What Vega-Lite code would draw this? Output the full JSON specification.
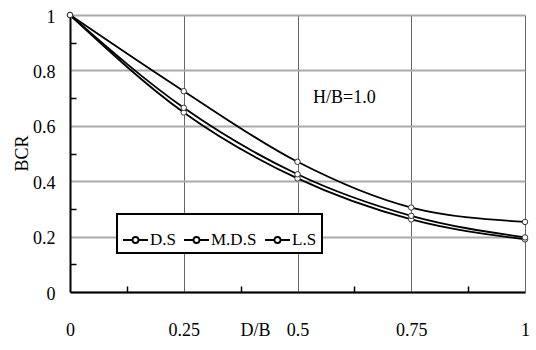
{
  "$schema": "https://vega.github.io/schema/vega-lite/v6.json",
  "width": 455,
  "height": 277,
  "autosize": "none",
  "padding": {"left": 70, "top": 15, "right": 11, "bottom": 58},
  "background": "white",
  "config": {
    "view": {"stroke": null},
    "font": "Times New Roman, Liberation Serif, serif"
  },
  "data": {
    "values": [
      {"x": 0, "y": 1, "s": "D.S"},
      {"x": 0.25, "y": 0.648, "s": "D.S"},
      {"x": 0.5, "y": 0.41, "s": "D.S"},
      {"x": 0.75, "y": 0.262, "s": "D.S"},
      {"x": 1, "y": 0.19, "s": "D.S"},
      {"x": 0, "y": 1, "s": "M.D.S"},
      {"x": 0.25, "y": 0.665, "s": "M.D.S"},
      {"x": 0.5, "y": 0.425, "s": "M.D.S"},
      {"x": 0.75, "y": 0.275, "s": "M.D.S"},
      {"x": 1, "y": 0.197, "s": "M.D.S"},
      {"x": 0, "y": 1, "s": "L.S"},
      {"x": 0.25, "y": 0.725, "s": "L.S"},
      {"x": 0.5, "y": 0.47, "s": "L.S"},
      {"x": 0.75, "y": 0.305, "s": "L.S"},
      {"x": 1, "y": 0.253, "s": "L.S"}
    ]
  },
  "resolve": {"axis": {"x": "independent", "y": "independent"}},
  "layer": [
    {
      "mark": {"type": "line", "interpolate": "monotone", "strokeWidth": 1.8,
               "point": {"filled": false, "fill": "white", "size": 30, "strokeWidth": 1, "stroke": "#333"}},
      "encoding": {
        "x": {"field": "x", "type": "quantitative",
              "scale": {"domain": [0, 1], "nice": false, "zero": false},
              "axis": {"orient": "bottom", "values": [0, 0.25, 0.5, 0.75, 1], "format": ".2~f",
                       "grid": true, "gridColor": "#666", "gridWidth": 1,
                       "ticks": false, "tickSize": 0,
                       "domain": true, "domainColor": "black", "domainWidth": 2,
                       "labelFont": "Times New Roman, Liberation Serif, serif", "labelFontSize": 18, "labelColor": "black",
                       "labelBaseline": "middle", "labelPadding": 38, "labelFlush": false,
                       "title": "D/B", "titleFont": "Times New Roman, Liberation Serif, serif", "titleFontSize": 18,
                       "titleFontWeight": "normal", "titleColor": "black",
                       "titleX": 185, "titleY": 38, "titleBaseline": "middle", "titleAlign": "center"}},
        "y": {"field": "y", "type": "quantitative",
              "scale": {"domain": [0, 1], "nice": false, "zero": false},
              "axis": {"orient": "left", "values": [0, 0.2, 0.4, 0.6, 0.8, 1], "format": ".1~f",
                       "grid": true, "gridColor": "#aaa", "gridWidth": 2,
                       "ticks": false, "tickSize": 0,
                       "domain": true, "domainColor": "black", "domainWidth": 2,
                       "labelFont": "Times New Roman, Liberation Serif, serif", "labelFontSize": 18, "labelColor": "black",
                       "labelBaseline": "middle", "labelPadding": 15, "labelOffset": 2, "labelFlush": false,
                       "title": "BCR", "titleFont": "Times New Roman, Liberation Serif, serif", "titleFontSize": 18,
                       "titleFontWeight": "normal", "titleColor": "black",
                       "titleX": -48, "titleY": 138, "titleBaseline": "middle", "titleAlign": "center", "titleAngle": -90}},
        "color": {"field": "s", "type": "nominal",
                  "scale": {"domain": ["D.S", "M.D.S", "L.S"], "range": ["black", "black", "black"]},
                  "legend": {"orient": "none", "legendX": 47, "legendY": 199, "direction": "horizontal",
                             "title": null, "strokeColor": "black", "fillColor": "white",
                             "padding": 5, "columnPadding": 4,
                             "symbolType": "M-1,0L-0.525,0M-0.225,0L0.25,0M-0.525,0A0.15,0.15 0 1,0 -0.225,0A0.15,0.15 0 1,0 -0.525,0Z",
                             "symbolSize": 1600, "symbolStrokeWidth": 1.8,
                             "labelFont": "Times New Roman, Liberation Serif, serif", "labelFontSize": 17, "labelColor": "black",
                             "labelOffset": -14,
                             "encode": {"legend": {"update": {"strokeWidth": {"value": 2}}},
                                        "symbols": {"update": {"fill": {"value": "white"}, "stroke": {"value": "black"}, "strokeWidth": {"value": 1.8}}}}}}
      }
    },
    {
      "data": {"values": [{"label": "H/B=1.0"}]},
      "mark": {"type": "text", "font": "Times New Roman, Liberation Serif, serif", "fontSize": 18, "fontWeight": "normal", "align": "left", "baseline": "middle", "color": "black"},
      "encoding": {
        "x": {"datum": 0.534, "type": "quantitative", "axis": null},
        "y": {"datum": 0.70, "type": "quantitative", "axis": null},
        "text": {"field": "label", "type": "nominal"}
      }
    },
    {
      "mark": {"type": "point", "opacity": 0},
      "encoding": {
        "x": {"field": "x", "type": "quantitative",
              "axis": {"orient": "bottom", "values": [0.125, 0.375, 0.625, 0.875], "labels": false,
                       "grid": false, "domain": false, "ticks": true, "tickSize": -6,
                       "tickColor": "black", "tickWidth": 1.5, "title": null}},
        "y": {"field": "y", "type": "quantitative",
              "axis": {"orient": "left", "values": [0.1, 0.3, 0.5, 0.7, 0.9], "labels": false,
                       "grid": false, "domain": false, "ticks": true, "tickSize": -6,
                       "tickColor": "black", "tickWidth": 1.5, "title": null}}
      }
    }
  ]
}
